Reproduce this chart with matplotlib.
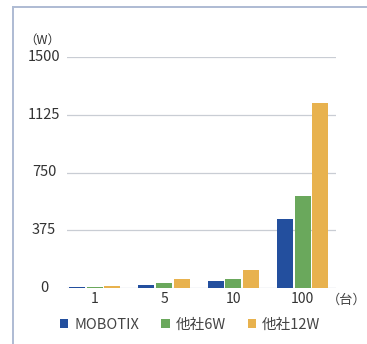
import matplotlib
matplotlib.use("Agg")
import matplotlib.pyplot as plt
import matplotlib.transforms as mtransforms
from matplotlib.patches import Patch
from matplotlib.lines import Line2D

plt.rcParams['font.family'] = ['Noto Sans CJK JP', 'DejaVu Sans']

# power consumption (W) by number of cameras
units = ["1", "5", "10", "100"]
mobotix = [4.5, 22.5, 45, 450]
other_6w = [6, 30, 60, 600]
other_12w = [12, 60, 120, 1200]
series_names = ["MOBOTIX", "他社6W", "他社12W"]
colors = ["#234f9e", "#6aa85c", "#e8b24e"]
yticks = [0, 375, 750, 1125, 1500]

W, H = 367, 344
fig = plt.figure(figsize=(W / 100, H / 100), dpi=100)
fig.patch.set_facecolor("white")

# frame lines along top and left edge
fig.add_artist(Line2D([13 / W, 13 / W], [0, 1 - 7 / H], color="#aebbd3", lw=1.4))
fig.add_artist(Line2D([13 / W, 1], [1 - 7 / H, 1 - 7 / H], color="#aebbd3", lw=1.4))

ax = fig.add_axes([67 / W, 56 / H, (336 - 67) / W, (288 - 57) / H])
for s in ax.spines.values():
    s.set_visible(False)

x = list(range(len(units)))
width = 0.23
offset = 0.255
for i, (vals, c) in enumerate(zip([mobotix, other_6w, other_12w], colors)):
    ax.bar([p + (i - 1) * offset for p in x], vals, width=width, color=c,
           zorder=3, label=series_names[i])

ax.set_xlim(-0.40, 3.48)
ax.set_ylim(0, 1500)
for v in yticks:
    ax.axhline(v, color="#c9cdd4" if v else "#b9c2d0", lw=0.9, zorder=1)

ax.set_yticks([])
ax.set_xticks(x)
ax.set_xticklabels(units, fontsize=10, color="#333333")
ax.tick_params(axis="x", length=0, pad=3)

trans = mtransforms.blended_transform_factory(fig.transFigure, ax.transData)
for v in yticks:
    fig.text(44 / W, v, f"{v}", transform=trans, ha="center", va="center",
             fontsize=10.5, color="#333333")
fig.text(42 / W, 1 - 40 / H, "（W）", ha="center", va="center", fontsize=9,
         color="#333333")
fig.text(347 / W, 1 - 300 / H, "（台）", ha="center", va="center", fontsize=9.5,
         color="#444444")

handles = [Patch(facecolor=c, edgecolor="none") for c in colors]
fig.legend(handles, series_names, loc="center", bbox_to_anchor=(190 / W, 1 - 325 / H),
           ncol=3, frameon=False, fontsize=10.5, handlelength=0.6, handleheight=0.6,
           handletextpad=0.4, columnspacing=1.5, labelcolor="#444444")

fig.savefig("out.png", dpi=100)
